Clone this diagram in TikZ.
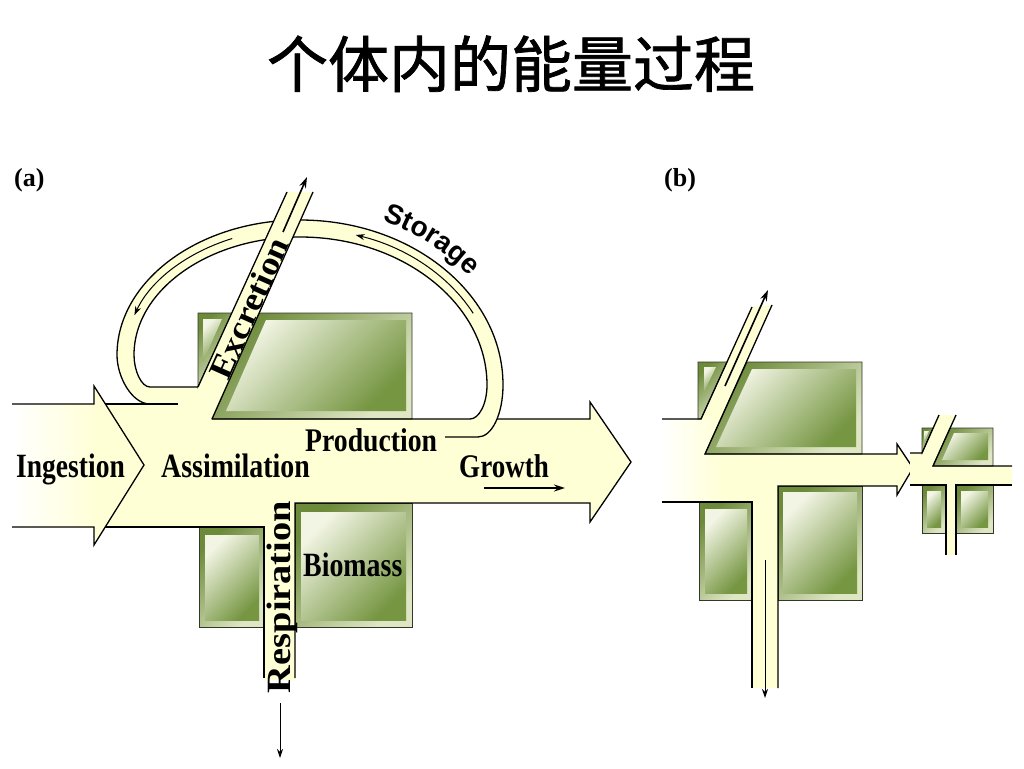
\documentclass[tikz,border=0pt]{standalone}
\usepackage{graphicx}
\usepackage{fontspec}
\setmainfont{Liberation Serif}
\setsansfont{Liberation Sans}
\newfontfamily\cjk{Noto Sans CJK SC}[FakeBold=1.2]
\usetikzlibrary{arrows.meta,decorations.text}
\definecolor{cream}{RGB}{255,255,214}
\definecolor{gdark}{RGB}{108,138,58}
\definecolor{glight}{RGB}{222,230,196}
\definecolor{ghi}{RGB}{242,245,228}
\definecolor{gmid}{RGB}{118,150,66}
\definecolor{boxline}{RGB}{50,55,40}
\begin{document}
\begin{tikzpicture}[x=1pt,y=-1pt,
  edge/.style={draw=black,line width=1.3pt,line join=miter},
  thinarrow/.style={draw=black,line width=1pt,-{Stealth[length=9pt,width=6pt]}},
  boldarrow/.style={draw=black,line width=1.6pt,-{Stealth[length=11pt,width=7pt]}},
  frame/.style={draw=boxline,line width=0.9pt,top color=gdark,bottom color=glight,shading angle=45},
  innerbox/.style={top color=ghi,bottom color=gmid,shading angle=45},
  lbl/.style={font=\fontsize{34}{34}\selectfont\bfseries,inner sep=0pt,anchor=base west},
  lblb/.style={font=\fontsize{33}{33}\selectfont\bfseries,inner sep=0pt,anchor=base west},
]
\fill[white] (0,0) rectangle (1024,768);
\useasboundingbox (0,0) rectangle (1024,768);

% title
\node[anchor=base,font=\cjk\fontsize{61}{61}\selectfont,inner sep=0pt] (title) at (511,87) {个体内的能量过程};
\node[anchor=base west,font=\fontsize{26}{26}\selectfont\bfseries,inner sep=0pt] (la) at (14,186) {(a)};
\node[anchor=base west,font=\fontsize{26}{26}\selectfont\bfseries,inner sep=0pt] (lb) at (664,186) {(b)};

% ================= (a) =================
% fills
\fill[cream] (12,404) -- (94,404) -- (94,386) -- (144,465) -- (94,545) -- (94,527) -- (12,527) -- cycle;
\shade[left color=white,right color=cream] (12,404) rectangle (96,527);
\fill[cream] (105,404) -- (150,404) -- (150,387) -- (198,387) -- (212,419) -- (590,419) -- (590,402) -- (631,462) -- (590,522) -- (590,503) -- (295,503) -- (295,680) -- (264,680) -- (264,527) -- (105,527) -- cycle;
\fill[cream] (150,404) .. controls (132,404) and (117,377) .. (117,355) .. controls (117,281) and (199,220) .. (300,220) .. controls (412,220) and (503,294) .. (503,385) .. controls (503,414) and (492,437) .. (478,437) -- (445,437) -- (470,419) .. controls (479,419) and (487,404) .. (487,385) .. controls (487,304) and (403,237) .. (300,237) .. controls (209,237) and (134,290) .. (134,355) .. controls (134,370) and (141,387) .. (150,387) -- cycle;

% boxes
\path[frame] (198,313) -- (232,313) -- (198,387) -- cycle;
\path[innerbox] (203,319) -- (222,319) -- (203,362) -- cycle;
\path[frame] (259,313) -- (412,313) -- (412,419) -- (212,419) -- cycle;
\path[innerbox] (266,320) -- (406,320) -- (406,411) -- (226,411) -- cycle;
\path[frame] (199,527) rectangle (264,627);
\path[innerbox] (205,535) rectangle (259,620);
\path[frame] (295,503) rectangle (412,627);
\path[innerbox] (301,512) rectangle (406,620);

% outlines
\draw[edge] (12,404) -- (94,404) -- (94,386) -- (144,465) -- (94,545) -- (94,527) -- (12,527);
\draw[edge] (105,404) -- (178,404);
\draw[edge] (105,527) -- (264,527) -- (264,678);
\draw[edge] (295,678) -- (295,503) -- (590,503) -- (590,522) -- (631,462) -- (590,402) -- (590,419) -- (497,419);
\draw[edge] (150,404) .. controls (132,404) and (117,377) .. (117,355) .. controls (117,281) and (199,220) .. (300,220) .. controls (412,220) and (503,294) .. (503,385) .. controls (503,414) and (492,437) .. (478,437) -- (445,437);
\draw[edge] (198,387) -- (150,387) .. controls (141,387) and (134,370) .. (134,355) .. controls (134,290) and (209,237) .. (300,237) .. controls (403,237) and (487,304) .. (487,385) .. controls (487,404) and (479,419) .. (470,419) -- (212,419);

% excretion channel (over the loop)
\fill[cream] (198,387) -- (287,192) -- (313,192) -- (212,419) -- cycle;
\draw[edge] (198,387) -- (287,192);
\draw[edge] (212,419) -- (313,192);

% thin arrows
\draw[boldarrow] (283,232) -- (307,177);
\draw[thinarrow] (473.2,313.3) .. controls (449.1,276.0) and (406.7,247.3) .. (355.7,235.0);
\draw[thinarrow] (232.2,238.5) .. controls (186.3,252.7) and (150.3,280.7) .. (134.4,315.2);
\draw[boldarrow] (484,488) -- (565,488);
\draw[thinarrow] (280,703) -- (280,758);

% labels
\node[lbl] (ing) at (16,477) {\scalebox{0.81}[1]{Ingestion}};
\node[lbl] (ass) at (161,477) {\scalebox{0.82}[1]{Assimilation}};
\node[lblb] (prod) at (305,451) {\scalebox{0.84}[1]{Production}};
\node[lblb] (gro) at (459,477) {\scalebox{0.82}[1]{Growth}};
\node[lbl] (bio) at (303,576) {\scalebox{0.82}[1]{Biomass}};
\node[font=\fontsize{33}{33}\selectfont\bfseries,rotate=66,inner sep=0pt] (exc) at (249,308) {\scalebox{1.1}[1]{Excretion}};
\node[font=\fontsize{34}{34}\selectfont\bfseries,rotate=90,inner sep=0pt,anchor=base] (resp) at (290,597) {\scalebox{1.13}[1]{Respiration}};
\path[decorate,decoration={text along path,text={|\fontsize{28}{28}\selectfont\sffamily\bfseries|Storage},text align={left indent=84pt}}] (300,207) .. controls (419,207) and (516,290) .. (516,385);

% ================= (b) =================
\fill[cream] (662,419) -- (701,419) -- (752,307) -- (772,305) -- (705,454) -- (897,454) -- (897,444) -- (913,468) -- (897,495) -- (897,486) -- (778,486) -- (778,688) -- (752,688) -- (752,502) -- (662,502) -- cycle;
\shade[left color=white,right color=cream] (662,419) rectangle (722,502);

\path[frame] (698,362) -- (727,362) -- (701,419) -- (698,419) -- cycle;
\path[innerbox] (704,367) -- (716,367) -- (704,392) -- cycle;
\path[frame] (747,362) -- (862,362) -- (862,454) -- (705,454) -- cycle;
\path[innerbox] (752,369) -- (856,369) -- (856,447) -- (716,447) -- cycle;
\path[frame] (699,502) rectangle (752,600);
\path[innerbox] (705,509) rectangle (747,593);
\path[frame] (778,486) rectangle (862,600);
\path[innerbox] (783,492) rectangle (857,593);

\draw[edge] (662,419) -- (701,419) -- (752,307);
\draw[edge] (772,305) -- (705,454) -- (897,454) -- (897,444) -- (913,468) -- (897,495) -- (897,486) -- (778,486) -- (778,688);
\draw[edge] (662,502) -- (752,502) -- (752,688);
\draw[boldarrow] (725,386) -- (768,290);
\draw[thinarrow] (765,560) -- (765,698);

% small diagram
\fill[cream] (910,453) -- (922,453) -- (939,415) -- (956,415) -- (933,466) -- (1012,466) -- (1012,485) -- (956,485) -- (956,555) -- (946,555) -- (946,485) -- (910,485) -- cycle;
\path[frame] (922,428) -- (933,428) -- (922,453) -- cycle;
\path[innerbox] (924,431) -- (929,431) -- (924,443) -- cycle;
\path[frame] (950,428) -- (993,428) -- (993,466) -- (933,466) -- cycle;
\path[innerbox] (954,433) -- (988,433) -- (988,460) -- (942,460) -- cycle;
\path[frame] (922,485) rectangle (946,533);
\path[innerbox] (927,491) rectangle (941,527);
\path[frame] (956,485) rectangle (993,533);
\path[innerbox] (961,491) rectangle (988,527);
\draw[edge] (910,453) -- (922,453) -- (939,415);
\draw[edge] (956,415) -- (933,466) -- (1012,466);
\draw[edge] (910,485) -- (946,485) -- (946,555);
\draw[edge] (956,555) -- (956,485) -- (1012,485);
\end{tikzpicture}
\end{document}
